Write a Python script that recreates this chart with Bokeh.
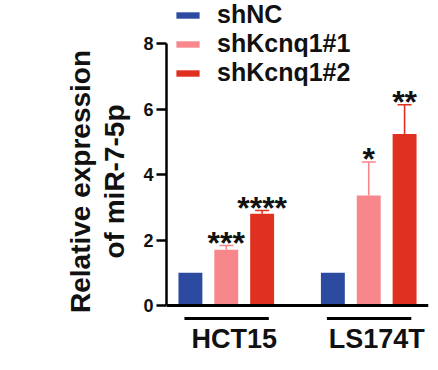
from bokeh.plotting import figure
from bokeh.models import (FactorRange, Range1d, Span, Legend, LegendItem, Whisker,
                          ColumnDataSource, FixedTicker)
from bokeh.core.properties import value
from bokeh.embed import file_html
from bokeh.resources import INLINE

# ---- data ----
cells = ["HCT15", "LS174T"]
series = ["shNC", "shKcnq1#1", "shKcnq1#2"]
shNC = [1.0, 1.0]
shKcnq1_1 = [1.70, 3.36]
shKcnq1_2 = [2.80, 5.24]
err_shNC = [0.0, 0.0]
err_shKcnq1_1 = [0.13, 1.02]
err_shKcnq1_2 = [0.10, 0.89]
sig_shKcnq1_1 = ["***", "*"]
sig_shKcnq1_2 = ["****", "**"]
y_ticks = [0, 2, 4, 6, 8]
y_title = "Relative expression\nof miR-7-5p"

colors = ["#2d4aa1", "#f7878b", "#e0301f"]
values = [shNC, shKcnq1_1, shKcnq1_2]
errors = [err_shNC, err_shKcnq1_1, err_shKcnq1_2]
sigs = [None, sig_shKcnq1_1, sig_shKcnq1_2]

FONT = "Liberation Sans"
PX_PER_UNIT = 32.75
FRAME_H = 362
Y_TOP = 305 / PX_PER_UNIT
Y_BOTTOM = Y_TOP - FRAME_H / PX_PER_UNIT

factors = [(c, s) for c in cells for s in series]
x_range = FactorRange(*factors, factor_padding=-0.25, group_padding=0.479,
                      range_padding=0)

p = figure(width=438, height=370, x_range=x_range,
           y_range=Range1d(Y_BOTTOM, Y_TOP),
           x_axis_location=None, output_backend="svg", toolbar_location=None,
           min_border_left=166, min_border_right=10, min_border_top=0,
           min_border_bottom=8)
p.outline_line_color = None
p.grid.visible = False
p.background_fill_color = "white"
p.border_fill_color = "white"

legend_items = []
for s, col, vals, errs, sg in zip(series, colors, values, errors, sigs):
    xs = [(c, s) for c in cells]
    uppers = [v + e for v, e in zip(vals, errs)]
    src = ColumnDataSource(dict(x=xs, top=vals, upper=uppers,
                                sig=sg if sg else [""] * len(cells)))
    r = p.vbar(x="x", top="top", width=0.5, source=src, fill_color=col,
               line_color=None)
    legend_items.append(LegendItem(label=s, renderers=[r]))
    if any(e > 0 for e in errs):
        w = Whisker(base="x", lower="top", upper="upper", source=src,
                    line_color=col, line_width=1.6, lower_head=None)
        w.upper_head.size = 14
        w.upper_head.line_color = col
        w.upper_head.line_width = 1.6
        p.add_layout(w)
    if sg:
        p.text(x="x", y="upper", text="sig", source=src,
               text_font=value(FONT), text_font_style="bold",
               text_font_size="32px", text_align="center",
               text_baseline="middle", y_offset=-3, text_color="#111111")

# baseline
p.add_layout(Span(location=0, dimension="width", line_color="black",
                  line_width=3))

# group underlines and labels
under_y = -13 / PX_PER_UNIT
p.segment(x0=[(c, series[0], -0.125) for c in cells],
          y0=[under_y] * len(cells),
          x1=[(c, series[-1], 0.14) for c in cells],
          y1=[under_y] * len(cells), line_color="black", line_width=3)
p.text(x=cells, y=[0] * len(cells), text=cells, text_font=value(FONT),
       text_font_style="bold", text_font_size="27px", text_align="center",
       text_baseline="middle", y_offset=33, x_offset=8,
       text_color="#111111")

# y axis
ax = p.yaxis[0]
ax.bounds = (0, 8)
ax.ticker = FixedTicker(ticks=y_ticks)
ax.minor_tick_line_color = None
ax.major_tick_in = 0
ax.major_tick_out = 10
ax.major_tick_line_width = 2.5
ax.axis_line_width = 2.5
ax.major_tick_line_color = "black"
ax.axis_line_color = "black"
ax.major_label_text_font = FONT
ax.major_label_text_font_style = "bold"
ax.major_label_text_font_size = "18px"
ax.major_label_text_color = "#111111"
ax.major_label_standoff = 3
ax.axis_label = y_title
ax.axis_label_text_font = FONT
ax.axis_label_text_font_style = "bold"
ax.axis_label_text_font_size = "28px"
ax.axis_label_text_color = "#111111"
ax.axis_label_text_line_height = 1.1
ax.axis_label_standoff = 10

legend = Legend(items=legend_items, location=(7, 275), orientation="vertical",
                glyph_width=29, glyph_height=8, label_standoff=15,
                label_text_font=FONT, label_text_font_style="bold",
                label_text_font_size="25px", label_text_color="#111111",
                padding=0, margin=0, spacing=-1, border_line_color=None,
                background_fill_alpha=0)
p.add_layout(legend)

open("out.html", "w").write(file_html(p, INLINE))
